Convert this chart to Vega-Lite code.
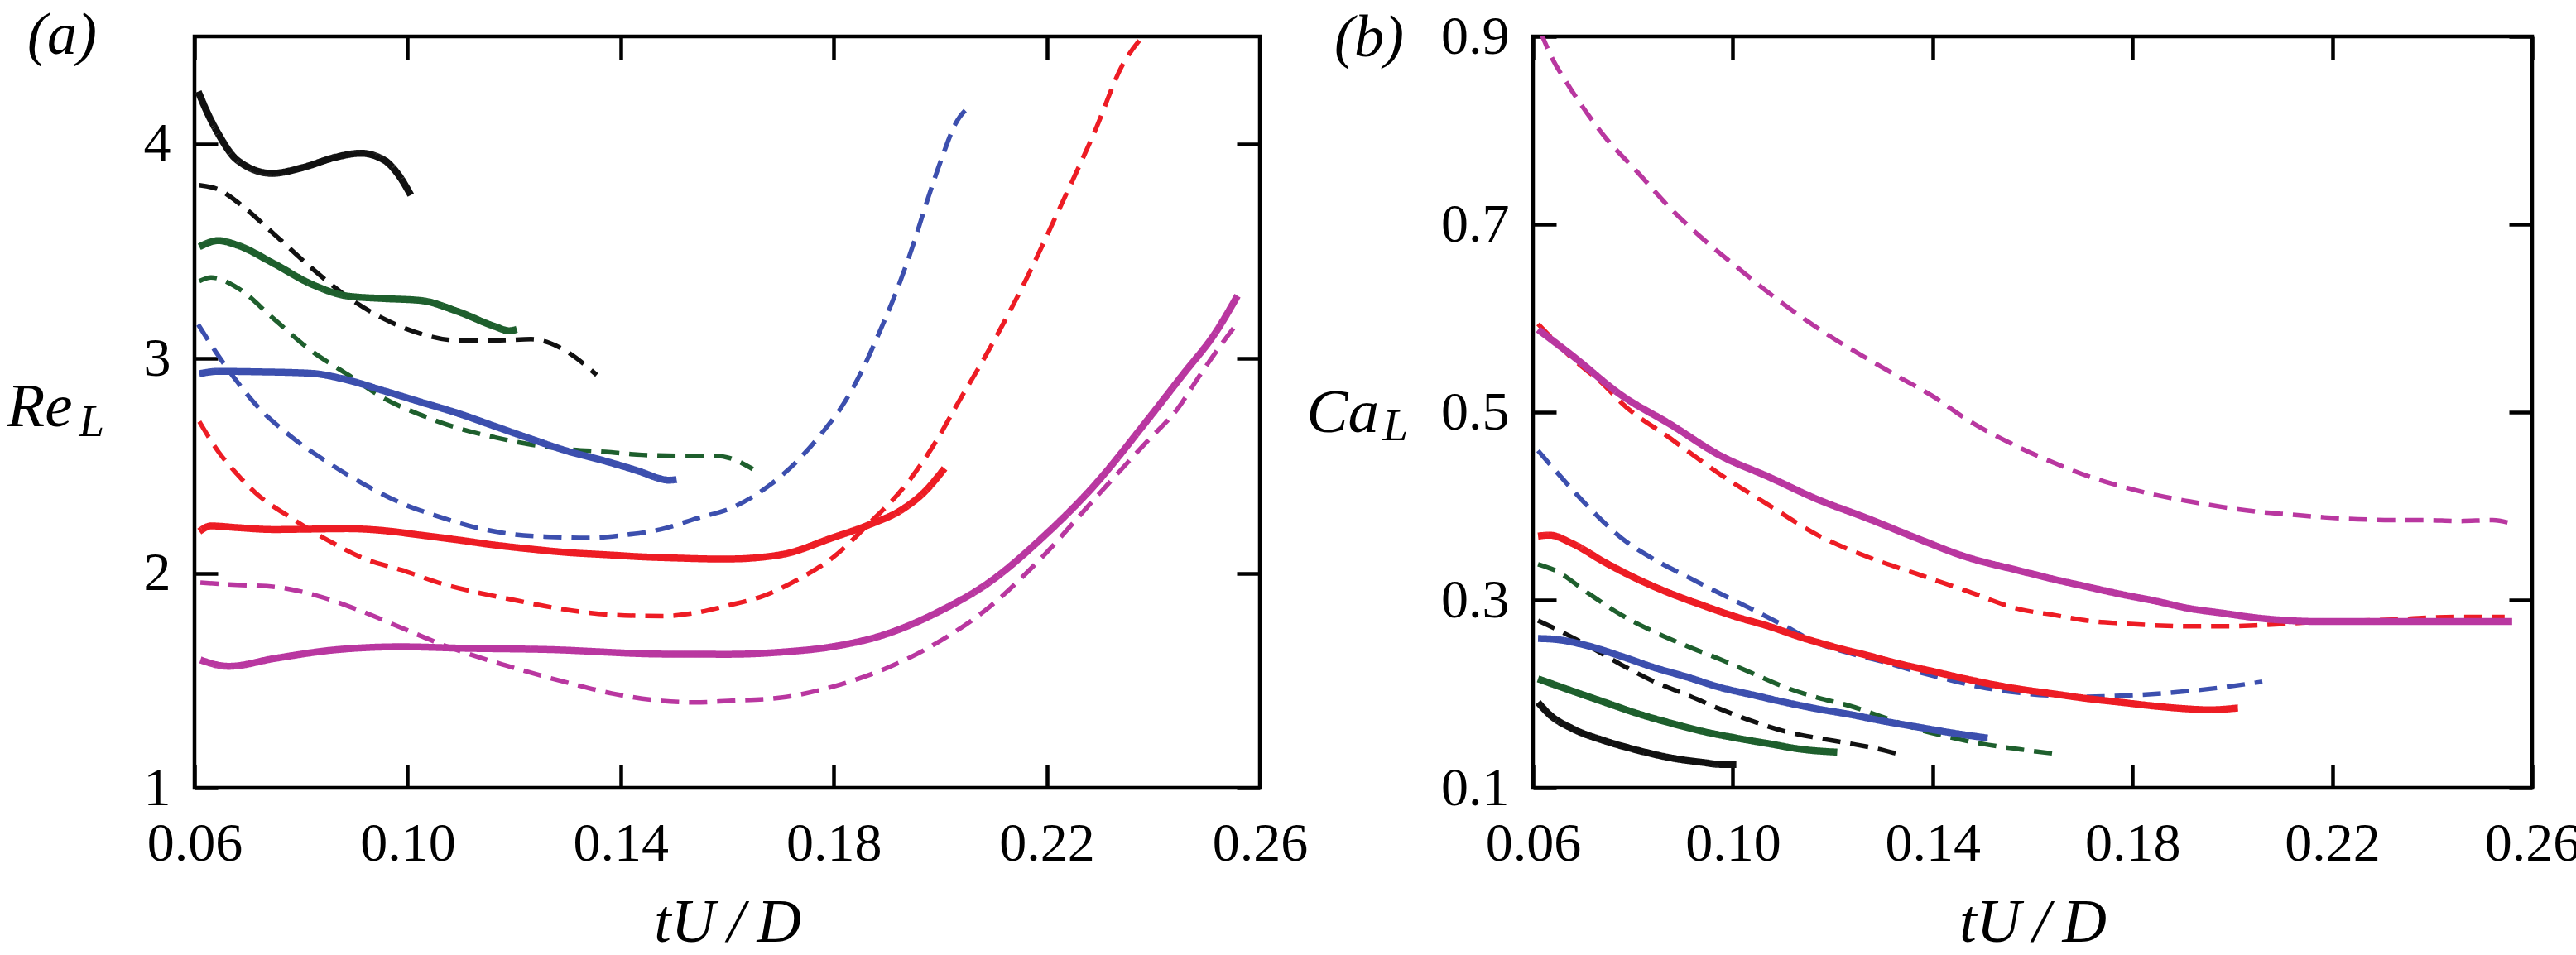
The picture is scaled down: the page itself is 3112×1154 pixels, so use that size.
{
  "$schema": "https://vega.github.io/schema/vega-lite/v6.json",
  "background": "white",
  "padding": {"left": 5, "top": 4, "right": 0, "bottom": 0},
  "bounds": "flush",
  "spacing": 330,
  "config": {
    "font": "Liberation Serif",
    "view": {"stroke": "black", "strokeWidth": 4.5},
    "axis": {
      "grid": false, "domain": false,
      "tickColor": "black", "tickWidth": 4.5, "tickSize": -28,
      "labelFont": "Liberation Serif", "labelFontSize": 66, "labelColor": "black",
      "labelFlush": false, "labelOverlap": false,
      "titleFont": "Liberation Serif", "titleFontSize": 74, "titleFontWeight": "normal",
      "titleFontStyle": "italic", "titleColor": "black"
    }
  },
  "datasets": {
    "a": [
      {"t":0.0607,"v":4.243,"c":"black","s":"solid"},{"t":0.0625,"v":4.14,"c":"black","s":"solid"},{"t":0.0645,"v":4.045,"c":"black","s":"solid"},{"t":0.068,"v":3.924,"c":"black","s":"solid"},{"t":0.0745,"v":3.862,"c":"black","s":"solid"},{"t":0.0804,"v":3.89,"c":"black","s":"solid"},{"t":0.0866,"v":3.938,"c":"black","s":"solid"},{"t":0.0912,"v":3.956,"c":"black","s":"solid"},{"t":0.0956,"v":3.924,"c":"black","s":"solid"},{"t":0.0983,"v":3.855,"c":"black","s":"solid"},{"t":0.1006,"v":3.761,"c":"black","s":"solid"},
      {"t":0.0609,"v":3.807,"c":"black","s":"dashed"},{"t":0.0645,"v":3.787,"c":"black","s":"dashed"},{"t":0.0686,"v":3.718,"c":"black","s":"dashed"},{"t":0.0749,"v":3.58,"c":"black","s":"dashed"},{"t":0.0818,"v":3.425,"c":"black","s":"dashed"},{"t":0.0887,"v":3.287,"c":"black","s":"dashed"},{"t":0.0956,"v":3.184,"c":"black","s":"dashed"},{"t":0.1025,"v":3.115,"c":"black","s":"dashed"},{"t":0.1094,"v":3.084,"c":"black","s":"dashed"},{"t":0.1163,"v":3.084,"c":"black","s":"dashed"},{"t":0.1232,"v":3.09,"c":"black","s":"dashed"},{"t":0.1267,"v":3.072,"c":"black","s":"dashed"},{"t":0.1301,"v":3.029,"c":"black","s":"dashed"},{"t":0.1355,"v":2.923,"c":"black","s":"dashed"},
      {"t":0.0609,"v":3.52,"c":"green","s":"solid"},{"t":0.0645,"v":3.549,"c":"green","s":"solid"},{"t":0.068,"v":3.528,"c":"green","s":"solid"},{"t":0.0749,"v":3.442,"c":"green","s":"solid"},{"t":0.0818,"v":3.348,"c":"green","s":"solid"},{"t":0.0887,"v":3.291,"c":"green","s":"solid"},{"t":0.0956,"v":3.279,"c":"green","s":"solid"},{"t":0.1025,"v":3.27,"c":"green","s":"solid"},{"t":0.1094,"v":3.219,"c":"green","s":"solid"},{"t":0.1163,"v":3.15,"c":"green","s":"solid"},{"t":0.1191,"v":3.129,"c":"green","s":"solid"},{"t":0.1205,"v":3.136,"c":"green","s":"solid"},
      {"t":0.0609,"v":3.36,"c":"green","s":"dashed"},{"t":0.0631,"v":3.377,"c":"green","s":"dashed"},{"t":0.068,"v":3.33,"c":"green","s":"dashed"},{"t":0.0749,"v":3.184,"c":"green","s":"dashed"},{"t":0.0818,"v":3.038,"c":"green","s":"dashed"},{"t":0.0887,"v":2.926,"c":"green","s":"dashed"},{"t":0.0956,"v":2.814,"c":"green","s":"dashed"},{"t":0.1025,"v":2.737,"c":"green","s":"dashed"},{"t":0.1094,"v":2.676,"c":"green","s":"dashed"},{"t":0.1163,"v":2.633,"c":"green","s":"dashed"},{"t":0.1232,"v":2.599,"c":"green","s":"dashed"},{"t":0.1301,"v":2.577,"c":"green","s":"dashed"},{"t":0.1371,"v":2.565,"c":"green","s":"dashed"},{"t":0.144,"v":2.551,"c":"green","s":"dashed"},{"t":0.1509,"v":2.547,"c":"green","s":"dashed"},{"t":0.1578,"v":2.547,"c":"green","s":"dashed"},{"t":0.1612,"v":2.53,"c":"green","s":"dashed"},{"t":0.1648,"v":2.485,"c":"green","s":"dashed"},
      {"t":0.0609,"v":2.929,"c":"blue","s":"solid"},{"t":0.0645,"v":2.94,"c":"blue","s":"solid"},{"t":0.0714,"v":2.938,"c":"blue","s":"solid"},{"t":0.0818,"v":2.931,"c":"blue","s":"solid"},{"t":0.0887,"v":2.9,"c":"blue","s":"solid"},{"t":0.0956,"v":2.849,"c":"blue","s":"solid"},{"t":0.1025,"v":2.797,"c":"blue","s":"solid"},{"t":0.1094,"v":2.745,"c":"blue","s":"solid"},{"t":0.1163,"v":2.685,"c":"blue","s":"solid"},{"t":0.1232,"v":2.625,"c":"blue","s":"solid"},{"t":0.1301,"v":2.568,"c":"blue","s":"solid"},{"t":0.1371,"v":2.522,"c":"blue","s":"solid"},{"t":0.144,"v":2.47,"c":"blue","s":"solid"},{"t":0.1474,"v":2.44,"c":"blue","s":"solid"},{"t":0.149,"v":2.433,"c":"blue","s":"solid"},{"t":0.1505,"v":2.436,"c":"blue","s":"solid"},
      {"t":0.0607,"v":3.158,"c":"blue","s":"dashed"},{"t":0.0645,"v":3.012,"c":"blue","s":"dashed"},{"t":0.068,"v":2.892,"c":"blue","s":"dashed"},{"t":0.0714,"v":2.788,"c":"blue","s":"dashed"},{"t":0.0783,"v":2.633,"c":"blue","s":"dashed"},{"t":0.0852,"v":2.513,"c":"blue","s":"dashed"},{"t":0.0921,"v":2.41,"c":"blue","s":"dashed"},{"t":0.099,"v":2.324,"c":"blue","s":"dashed"},{"t":0.1059,"v":2.263,"c":"blue","s":"dashed"},{"t":0.1129,"v":2.212,"c":"blue","s":"dashed"},{"t":0.1198,"v":2.181,"c":"blue","s":"dashed"},{"t":0.1267,"v":2.169,"c":"blue","s":"dashed"},{"t":0.1336,"v":2.164,"c":"blue","s":"dashed"},{"t":0.1405,"v":2.177,"c":"blue","s":"dashed"},{"t":0.1474,"v":2.203,"c":"blue","s":"dashed"},{"t":0.1543,"v":2.255,"c":"blue","s":"dashed"},{"t":0.1612,"v":2.308,"c":"blue","s":"dashed"},{"t":0.1681,"v":2.412,"c":"blue","s":"dashed"},{"t":0.1733,"v":2.526,"c":"blue","s":"dashed"},{"t":0.1779,"v":2.656,"c":"blue","s":"dashed"},{"t":0.1818,"v":2.787,"c":"blue","s":"dashed"},{"t":0.1851,"v":2.933,"c":"blue","s":"dashed"},{"t":0.1884,"v":3.112,"c":"blue","s":"dashed"},{"t":0.1917,"v":3.308,"c":"blue","s":"dashed"},{"t":0.195,"v":3.536,"c":"blue","s":"dashed"},{"t":0.1975,"v":3.731,"c":"blue","s":"dashed"},{"t":0.2002,"v":3.927,"c":"blue","s":"dashed"},{"t":0.2028,"v":4.09,"c":"blue","s":"dashed"},{"t":0.2061,"v":4.184,"c":"blue","s":"dashed"},
      {"t":0.0609,"v":2.194,"c":"red","s":"solid"},{"t":0.0631,"v":2.22,"c":"red","s":"solid"},{"t":0.068,"v":2.212,"c":"red","s":"solid"},{"t":0.0749,"v":2.203,"c":"red","s":"solid"},{"t":0.0818,"v":2.205,"c":"red","s":"solid"},{"t":0.0887,"v":2.207,"c":"red","s":"solid"},{"t":0.0956,"v":2.198,"c":"red","s":"solid"},{"t":0.1025,"v":2.177,"c":"red","s":"solid"},{"t":0.1094,"v":2.155,"c":"red","s":"solid"},{"t":0.1163,"v":2.131,"c":"red","s":"solid"},{"t":0.1232,"v":2.112,"c":"red","s":"solid"},{"t":0.1301,"v":2.096,"c":"red","s":"solid"},{"t":0.1371,"v":2.086,"c":"red","s":"solid"},{"t":0.144,"v":2.076,"c":"red","s":"solid"},{"t":0.1509,"v":2.07,"c":"red","s":"solid"},{"t":0.1578,"v":2.066,"c":"red","s":"solid"},{"t":0.1603,"v":2.066,"c":"red","s":"solid"},{"t":0.1701,"v":2.086,"c":"red","s":"solid"},{"t":0.1799,"v":2.166,"c":"red","s":"solid"},{"t":0.1865,"v":2.224,"c":"red","s":"solid"},{"t":0.193,"v":2.299,"c":"red","s":"solid"},{"t":0.1969,"v":2.375,"c":"red","s":"solid"},{"t":0.2008,"v":2.488,"c":"red","s":"solid"},
      {"t":0.0609,"v":2.706,"c":"red","s":"dashed"},{"t":0.0645,"v":2.565,"c":"red","s":"dashed"},{"t":0.068,"v":2.461,"c":"red","s":"dashed"},{"t":0.0714,"v":2.375,"c":"red","s":"dashed"},{"t":0.0783,"v":2.255,"c":"red","s":"dashed"},{"t":0.0852,"v":2.151,"c":"red","s":"dashed"},{"t":0.0921,"v":2.065,"c":"red","s":"dashed"},{"t":0.0988,"v":2.015,"c":"red","s":"dashed"},{"t":0.1063,"v":1.952,"c":"red","s":"dashed"},{"t":0.1129,"v":1.911,"c":"red","s":"dashed"},{"t":0.1186,"v":1.882,"c":"red","s":"dashed"},{"t":0.1305,"v":1.827,"c":"red","s":"dashed"},{"t":0.1385,"v":1.806,"c":"red","s":"dashed"},{"t":0.1478,"v":1.8,"c":"red","s":"dashed"},{"t":0.154,"v":1.815,"c":"red","s":"dashed"},{"t":0.1603,"v":1.85,"c":"red","s":"dashed"},{"t":0.1669,"v":1.895,"c":"red","s":"dashed"},{"t":0.1734,"v":1.972,"c":"red","s":"dashed"},{"t":0.1799,"v":2.074,"c":"red","s":"dashed"},{"t":0.1865,"v":2.228,"c":"red","s":"dashed"},{"t":0.193,"v":2.395,"c":"red","s":"dashed"},{"t":0.1995,"v":2.626,"c":"red","s":"dashed"},{"t":0.2028,"v":2.77,"c":"red","s":"dashed"},{"t":0.2093,"v":3.047,"c":"red","s":"dashed"},{"t":0.2159,"v":3.357,"c":"red","s":"dashed"},{"t":0.2224,"v":3.699,"c":"red","s":"dashed"},{"t":0.229,"v":4.057,"c":"red","s":"dashed"},{"t":0.2342,"v":4.366,"c":"red","s":"dashed"},{"t":0.238,"v":4.5,"c":"red","s":"dashed"},
      {"t":0.0611,"v":1.596,"c":"magenta","s":"solid"},{"t":0.0664,"v":1.566,"c":"magenta","s":"solid"},{"t":0.0751,"v":1.603,"c":"magenta","s":"solid"},{"t":0.0869,"v":1.644,"c":"magenta","s":"solid"},{"t":0.0988,"v":1.657,"c":"magenta","s":"solid"},{"t":0.1107,"v":1.65,"c":"magenta","s":"solid"},{"t":0.1265,"v":1.644,"c":"magenta","s":"solid"},{"t":0.1478,"v":1.623,"c":"magenta","s":"solid"},{"t":0.1603,"v":1.622,"c":"magenta","s":"solid"},{"t":0.1701,"v":1.632,"c":"magenta","s":"solid"},{"t":0.1799,"v":1.658,"c":"magenta","s":"solid"},{"t":0.1897,"v":1.715,"c":"magenta","s":"solid"},{"t":0.1995,"v":1.818,"c":"magenta","s":"solid"},{"t":0.2093,"v":1.959,"c":"magenta","s":"solid"},{"t":0.2191,"v":2.164,"c":"magenta","s":"solid"},{"t":0.2289,"v":2.408,"c":"magenta","s":"solid"},{"t":0.2388,"v":2.71,"c":"magenta","s":"solid"},{"t":0.2453,"v":2.917,"c":"magenta","s":"solid"},{"t":0.2519,"v":3.129,"c":"magenta","s":"solid"},{"t":0.2558,"v":3.292,"c":"magenta","s":"solid"},
      {"t":0.0611,"v":1.956,"c":"magenta","s":"dashed"},{"t":0.068,"v":1.945,"c":"magenta","s":"dashed"},{"t":0.0751,"v":1.936,"c":"magenta","s":"dashed"},{"t":0.083,"v":1.895,"c":"magenta","s":"dashed"},{"t":0.0909,"v":1.827,"c":"magenta","s":"dashed"},{"t":0.0988,"v":1.746,"c":"magenta","s":"dashed"},{"t":0.1068,"v":1.664,"c":"magenta","s":"dashed"},{"t":0.1186,"v":1.569,"c":"magenta","s":"dashed"},{"t":0.1305,"v":1.487,"c":"magenta","s":"dashed"},{"t":0.1385,"v":1.439,"c":"magenta","s":"dashed"},{"t":0.1478,"v":1.405,"c":"magenta","s":"dashed"},{"t":0.154,"v":1.398,"c":"magenta","s":"dashed"},{"t":0.1603,"v":1.405,"c":"magenta","s":"dashed"},{"t":0.1701,"v":1.42,"c":"magenta","s":"dashed"},{"t":0.1799,"v":1.472,"c":"magenta","s":"dashed"},{"t":0.1897,"v":1.555,"c":"magenta","s":"dashed"},{"t":0.1995,"v":1.677,"c":"magenta","s":"dashed"},{"t":0.2093,"v":1.844,"c":"magenta","s":"dashed"},{"t":0.2191,"v":2.074,"c":"magenta","s":"dashed"},{"t":0.2289,"v":2.344,"c":"magenta","s":"dashed"},{"t":0.2388,"v":2.613,"c":"magenta","s":"dashed"},{"t":0.2446,"v":2.767,"c":"magenta","s":"dashed"},{"t":0.2486,"v":2.917,"c":"magenta","s":"dashed"},{"t":0.2532,"v":3.08,"c":"magenta","s":"dashed"},{"t":0.2559,"v":3.169,"c":"magenta","s":"dashed"}
    ],
    "b": [
      {"t":0.061,"v":0.191,"c":"black","s":"solid"},{"t":0.0633,"v":0.178,"c":"black","s":"solid"},{"t":0.0679,"v":0.163,"c":"black","s":"solid"},{"t":0.0744,"v":0.15,"c":"black","s":"solid"},{"t":0.081,"v":0.14,"c":"black","s":"solid"},{"t":0.0875,"v":0.132,"c":"black","s":"solid"},{"t":0.0941,"v":0.127,"c":"black","s":"solid"},{"t":0.0974,"v":0.125,"c":"black","s":"solid"},{"t":0.1007,"v":0.125,"c":"black","s":"solid"},
      {"t":0.061,"v":0.278,"c":"black","s":"dashed"},{"t":0.0646,"v":0.269,"c":"black","s":"dashed"},{"t":0.0711,"v":0.251,"c":"black","s":"dashed"},{"t":0.0777,"v":0.231,"c":"black","s":"dashed"},{"t":0.0843,"v":0.213,"c":"black","s":"dashed"},{"t":0.0908,"v":0.199,"c":"black","s":"dashed"},{"t":0.0974,"v":0.184,"c":"black","s":"dashed"},{"t":0.1039,"v":0.171,"c":"black","s":"dashed"},{"t":0.1105,"v":0.16,"c":"black","s":"dashed"},{"t":0.117,"v":0.153,"c":"black","s":"dashed"},{"t":0.1236,"v":0.147,"c":"black","s":"dashed"},{"t":0.1302,"v":0.14,"c":"black","s":"dashed"},{"t":0.1344,"v":0.134,"c":"black","s":"dashed"},
      {"t":0.061,"v":0.216,"c":"green","s":"solid"},{"t":0.0679,"v":0.203,"c":"green","s":"solid"},{"t":0.0744,"v":0.191,"c":"green","s":"solid"},{"t":0.081,"v":0.179,"c":"green","s":"solid"},{"t":0.0875,"v":0.169,"c":"green","s":"solid"},{"t":0.0941,"v":0.16,"c":"green","s":"solid"},{"t":0.1007,"v":0.153,"c":"green","s":"solid"},{"t":0.1072,"v":0.147,"c":"green","s":"solid"},{"t":0.1138,"v":0.141,"c":"green","s":"solid"},{"t":0.1209,"v":0.138,"c":"green","s":"solid"},
      {"t":0.061,"v":0.338,"c":"green","s":"dashed"},{"t":0.0646,"v":0.331,"c":"green","s":"dashed"},{"t":0.0711,"v":0.307,"c":"green","s":"dashed"},{"t":0.0777,"v":0.284,"c":"green","s":"dashed"},{"t":0.0843,"v":0.266,"c":"green","s":"dashed"},{"t":0.0908,"v":0.251,"c":"green","s":"dashed"},{"t":0.0974,"v":0.237,"c":"green","s":"dashed"},{"t":0.1039,"v":0.222,"c":"green","s":"dashed"},{"t":0.1105,"v":0.207,"c":"green","s":"dashed"},{"t":0.117,"v":0.196,"c":"green","s":"dashed"},{"t":0.1236,"v":0.187,"c":"green","s":"dashed"},{"t":0.1302,"v":0.175,"c":"green","s":"dashed"},{"t":0.1367,"v":0.163,"c":"green","s":"dashed"},{"t":0.1433,"v":0.154,"c":"green","s":"dashed"},{"t":0.1498,"v":0.147,"c":"green","s":"dashed"},{"t":0.1575,"v":0.141,"c":"green","s":"dashed"},{"t":0.1649,"v":0.136,"c":"green","s":"dashed"},
      {"t":0.061,"v":0.259,"c":"blue","s":"solid"},{"t":0.0646,"v":0.258,"c":"blue","s":"solid"},{"t":0.0711,"v":0.251,"c":"blue","s":"solid"},{"t":0.0777,"v":0.24,"c":"blue","s":"solid"},{"t":0.0843,"v":0.228,"c":"blue","s":"solid"},{"t":0.0908,"v":0.218,"c":"blue","s":"solid"},{"t":0.0974,"v":0.207,"c":"blue","s":"solid"},{"t":0.1039,"v":0.199,"c":"blue","s":"solid"},{"t":0.1105,"v":0.191,"c":"blue","s":"solid"},{"t":0.117,"v":0.184,"c":"blue","s":"solid"},{"t":0.1236,"v":0.178,"c":"blue","s":"solid"},{"t":0.1302,"v":0.171,"c":"blue","s":"solid"},{"t":0.1367,"v":0.165,"c":"blue","s":"solid"},{"t":0.1433,"v":0.159,"c":"blue","s":"solid"},{"t":0.151,"v":0.153,"c":"blue","s":"solid"},
      {"t":0.061,"v":0.459,"c":"blue","s":"dashed"},{"t":0.0646,"v":0.437,"c":"blue","s":"dashed"},{"t":0.0711,"v":0.399,"c":"blue","s":"dashed"},{"t":0.0777,"v":0.366,"c":"blue","s":"dashed"},{"t":0.0843,"v":0.343,"c":"blue","s":"dashed"},{"t":0.0908,"v":0.325,"c":"blue","s":"dashed"},{"t":0.0974,"v":0.307,"c":"blue","s":"dashed"},{"t":0.1039,"v":0.29,"c":"blue","s":"dashed"},{"t":0.1105,"v":0.272,"c":"blue","s":"dashed"},{"t":0.117,"v":0.254,"c":"blue","s":"dashed"},{"t":0.1236,"v":0.243,"c":"blue","s":"dashed"},{"t":0.1302,"v":0.234,"c":"blue","s":"dashed"},{"t":0.1367,"v":0.224,"c":"blue","s":"dashed"},{"t":0.1433,"v":0.215,"c":"blue","s":"dashed"},{"t":0.1498,"v":0.207,"c":"blue","s":"dashed"},{"t":0.1575,"v":0.201,"c":"blue","s":"dashed"},{"t":0.1643,"v":0.198,"c":"blue","s":"dashed"},{"t":0.171,"v":0.197,"c":"blue","s":"dashed"},{"t":0.1778,"v":0.198,"c":"blue","s":"dashed"},{"t":0.1845,"v":0.2,"c":"blue","s":"dashed"},{"t":0.1913,"v":0.203,"c":"blue","s":"dashed"},{"t":0.198,"v":0.207,"c":"blue","s":"dashed"},{"t":0.206,"v":0.213,"c":"blue","s":"dashed"},
      {"t":0.061,"v":0.368,"c":"red","s":"solid"},{"t":0.0633,"v":0.369,"c":"red","s":"solid"},{"t":0.0679,"v":0.36,"c":"red","s":"solid"},{"t":0.0744,"v":0.34,"c":"red","s":"solid"},{"t":0.081,"v":0.322,"c":"red","s":"solid"},{"t":0.0875,"v":0.307,"c":"red","s":"solid"},{"t":0.0941,"v":0.294,"c":"red","s":"solid"},{"t":0.1007,"v":0.282,"c":"red","s":"solid"},{"t":0.1072,"v":0.272,"c":"red","s":"solid"},{"t":0.1138,"v":0.26,"c":"red","s":"solid"},{"t":0.1203,"v":0.25,"c":"red","s":"solid"},{"t":0.1269,"v":0.241,"c":"red","s":"solid"},{"t":0.1334,"v":0.232,"c":"red","s":"solid"},{"t":0.14,"v":0.224,"c":"red","s":"solid"},{"t":0.1466,"v":0.216,"c":"red","s":"solid"},{"t":0.1531,"v":0.209,"c":"red","s":"solid"},{"t":0.1575,"v":0.205,"c":"red","s":"solid"},{"t":0.1643,"v":0.2,"c":"red","s":"solid"},{"t":0.171,"v":0.195,"c":"red","s":"solid"},{"t":0.1778,"v":0.191,"c":"red","s":"solid"},{"t":0.1845,"v":0.187,"c":"red","s":"solid"},{"t":0.1913,"v":0.184,"c":"red","s":"solid"},{"t":0.1953,"v":0.183,"c":"red","s":"solid"},{"t":0.2011,"v":0.185,"c":"red","s":"solid"},
      {"t":0.061,"v":0.594,"c":"red","s":"dashed"},{"t":0.0679,"v":0.557,"c":"red","s":"dashed"},{"t":0.0744,"v":0.528,"c":"red","s":"dashed"},{"t":0.0777,"v":0.51,"c":"red","s":"dashed"},{"t":0.0875,"v":0.472,"c":"red","s":"dashed"},{"t":0.0974,"v":0.434,"c":"red","s":"dashed"},{"t":0.1072,"v":0.401,"c":"red","s":"dashed"},{"t":0.117,"v":0.369,"c":"red","s":"dashed"},{"t":0.1269,"v":0.346,"c":"red","s":"dashed"},{"t":0.1367,"v":0.328,"c":"red","s":"dashed"},{"t":0.1466,"v":0.31,"c":"red","s":"dashed"},{"t":0.1575,"v":0.29,"c":"red","s":"dashed"},{"t":0.1643,"v":0.284,"c":"red","s":"dashed"},{"t":0.171,"v":0.278,"c":"red","s":"dashed"},{"t":0.1778,"v":0.275,"c":"red","s":"dashed"},{"t":0.1845,"v":0.273,"c":"red","s":"dashed"},{"t":0.1913,"v":0.272,"c":"red","s":"dashed"},{"t":0.198,"v":0.272,"c":"red","s":"dashed"},{"t":0.2048,"v":0.273,"c":"red","s":"dashed"},{"t":0.2116,"v":0.275,"c":"red","s":"dashed"},{"t":0.2183,"v":0.277,"c":"red","s":"dashed"},{"t":0.2251,"v":0.278,"c":"red","s":"dashed"},{"t":0.2318,"v":0.279,"c":"red","s":"dashed"},{"t":0.2386,"v":0.281,"c":"red","s":"dashed"},{"t":0.2453,"v":0.282,"c":"red","s":"dashed"},{"t":0.2545,"v":0.282,"c":"red","s":"dashed"},
      {"t":0.061,"v":0.588,"c":"magenta","s":"solid"},{"t":0.0679,"v":0.56,"c":"magenta","s":"solid"},{"t":0.0777,"v":0.518,"c":"magenta","s":"solid"},{"t":0.0875,"v":0.487,"c":"magenta","s":"solid"},{"t":0.0974,"v":0.454,"c":"magenta","s":"solid"},{"t":0.1072,"v":0.431,"c":"magenta","s":"solid"},{"t":0.117,"v":0.407,"c":"magenta","s":"solid"},{"t":0.1269,"v":0.387,"c":"magenta","s":"solid"},{"t":0.1367,"v":0.366,"c":"magenta","s":"solid"},{"t":0.1466,"v":0.346,"c":"magenta","s":"solid"},{"t":0.1575,"v":0.331,"c":"magenta","s":"solid"},{"t":0.1643,"v":0.322,"c":"magenta","s":"solid"},{"t":0.171,"v":0.314,"c":"magenta","s":"solid"},{"t":0.1778,"v":0.306,"c":"magenta","s":"solid"},{"t":0.1845,"v":0.299,"c":"magenta","s":"solid"},{"t":0.1913,"v":0.291,"c":"magenta","s":"solid"},{"t":0.198,"v":0.286,"c":"magenta","s":"solid"},{"t":0.2048,"v":0.281,"c":"magenta","s":"solid"},{"t":0.2116,"v":0.278,"c":"magenta","s":"solid"},{"t":0.2183,"v":0.277,"c":"magenta","s":"solid"},{"t":0.2251,"v":0.277,"c":"magenta","s":"solid"},{"t":0.2386,"v":0.277,"c":"magenta","s":"solid"},{"t":0.256,"v":0.277,"c":"magenta","s":"solid"},
      {"t":0.0615,"v":0.905,"c":"magenta","s":"dashed"},{"t":0.0639,"v":0.876,"c":"magenta","s":"dashed"},{"t":0.0666,"v":0.852,"c":"magenta","s":"dashed"},{"t":0.0698,"v":0.826,"c":"magenta","s":"dashed"},{"t":0.0744,"v":0.793,"c":"magenta","s":"dashed"},{"t":0.081,"v":0.755,"c":"magenta","s":"dashed"},{"t":0.0875,"v":0.717,"c":"magenta","s":"dashed"},{"t":0.0941,"v":0.684,"c":"magenta","s":"dashed"},{"t":0.1007,"v":0.655,"c":"magenta","s":"dashed"},{"t":0.1072,"v":0.627,"c":"magenta","s":"dashed"},{"t":0.1138,"v":0.601,"c":"magenta","s":"dashed"},{"t":0.1203,"v":0.578,"c":"magenta","s":"dashed"},{"t":0.1269,"v":0.557,"c":"magenta","s":"dashed"},{"t":0.1334,"v":0.537,"c":"magenta","s":"dashed"},{"t":0.14,"v":0.517,"c":"magenta","s":"dashed"},{"t":0.1466,"v":0.493,"c":"magenta","s":"dashed"},{"t":0.1575,"v":0.462,"c":"magenta","s":"dashed"},{"t":0.1643,"v":0.446,"c":"magenta","s":"dashed"},{"t":0.171,"v":0.432,"c":"magenta","s":"dashed"},{"t":0.1778,"v":0.421,"c":"magenta","s":"dashed"},{"t":0.1845,"v":0.412,"c":"magenta","s":"dashed"},{"t":0.1913,"v":0.405,"c":"magenta","s":"dashed"},{"t":0.198,"v":0.399,"c":"magenta","s":"dashed"},{"t":0.2048,"v":0.394,"c":"magenta","s":"dashed"},{"t":0.2116,"v":0.391,"c":"magenta","s":"dashed"},{"t":0.2183,"v":0.388,"c":"magenta","s":"dashed"},{"t":0.2251,"v":0.386,"c":"magenta","s":"dashed"},{"t":0.2318,"v":0.385,"c":"magenta","s":"dashed"},{"t":0.2386,"v":0.385,"c":"magenta","s":"dashed"},{"t":0.2453,"v":0.384,"c":"magenta","s":"dashed"},{"t":0.2521,"v":0.385,"c":"magenta","s":"dashed"},{"t":0.2561,"v":0.381,"c":"magenta","s":"dashed"}
    ]
  },
  "hconcat": [
    {
      "width": 1287, "height": 908,
      "title": {"text": "(a)", "anchor": "start", "frame": "group", "dx": -202, "offset": -38, "fontSize": 72, "fontStyle": "italic", "fontWeight": "normal", "font": "Liberation Serif", "color": "black"},
      "data": {"name": "a"},
      "layer": [
        {
          "mark": {"type": "line", "interpolate": "monotone", "clip": true, "strokeCap": "butt"},
          "encoding": {
            "x": {"field": "t", "type": "quantitative", "scale": {"domain": [0.06, 0.26], "nice": false, "zero": false},
                  "axis": {"orient": "bottom", "values": [0.06, 0.1, 0.14, 0.18, 0.22, 0.26], "format": ".2f", "labelBaseline": "alphabetic", "labelPadding": 115, "title": "tU\u2009/\u2009D", "titleX": 643.5, "titleY": 185, "titleAlign": "center", "titleBaseline": "alphabetic"}},
            "y": {"field": "v", "type": "quantitative", "scale": {"domain": [1, 4.5], "nice": false, "zero": false},
                  "axis": {"orient": "left", "values": [1, 2, 3, 4], "format": "d", "labelPadding": 57, "title": "Re", "titleAngle": 0, "titleAlign": "left", "titleBaseline": "alphabetic", "titleX": -227, "titleY": 470, "titleFontSize": 75}},
            "color": {"field": "c", "type": "nominal", "scale": {"domain": ["black", "green", "blue", "red", "magenta"], "range": ["#111111", "#1e5f2d", "#3c4fae", "#ed1c24", "#b937a0"]}, "legend": null},
            "strokeDash": {"field": "s", "type": "nominal", "scale": {"domain": ["solid", "dashed"], "range": [[1, 0], [22, 12]]}, "legend": null},
            "strokeWidth": {"field": "s", "type": "ordinal", "scale": {"domain": ["solid", "dashed"], "range": [8.5, 5.5]}, "legend": null}
          }
        },
        {
          "mark": {"type": "line", "opacity": 0},
          "encoding": {
            "x": {"field": "t", "type": "quantitative", "scale": {"domain": [0.06, 0.26], "nice": false, "zero": false},
                  "axis": {"orient": "top", "values": [0.06, 0.1, 0.14, 0.18, 0.22, 0.26], "labels": false, "title": null}},
            "y": {"field": "v", "type": "quantitative", "scale": {"domain": [1, 4.5], "nice": false, "zero": false},
                  "axis": {"orient": "right", "values": [1, 2, 3, 4], "labels": false, "title": "L", "titleAngle": 0, "titleAlign": "left", "titleBaseline": "alphabetic", "titleX": -1427, "titleY": 482, "titleFontSize": 55}},
            "detail": {"field": "c"}
          }
        }
      ],
      "resolve": {"axis": {"x": "independent", "y": "independent"}}
    },
    {
      "width": 1207, "height": 908,
      "title": {"text": "(b)", "anchor": "start", "frame": "group", "dx": -240, "offset": -72, "fontSize": 72, "fontStyle": "italic", "fontWeight": "normal", "font": "Liberation Serif", "color": "black"},
      "data": {"name": "b"},
      "layer": [
        {
          "mark": {"type": "line", "interpolate": "monotone", "clip": true, "strokeCap": "butt"},
          "encoding": {
            "x": {"field": "t", "type": "quantitative", "scale": {"domain": [0.06, 0.26], "nice": false, "zero": false},
                  "axis": {"orient": "bottom", "values": [0.06, 0.1, 0.14, 0.18, 0.22, 0.26], "format": ".2f", "labelBaseline": "alphabetic", "labelPadding": 115, "title": "tU\u2009/\u2009D", "titleX": 603.5, "titleY": 185, "titleAlign": "center", "titleBaseline": "alphabetic"}},
            "y": {"field": "v", "type": "quantitative", "scale": {"domain": [0.1, 0.9], "nice": false, "zero": false},
                  "axis": {"orient": "left", "values": [0.1, 0.3, 0.5, 0.7, 0.9], "format": ".1f", "labelPadding": 57, "title": "Ca", "titleAngle": 0, "titleAlign": "left", "titleBaseline": "alphabetic", "titleX": -274, "titleY": 477, "titleFontSize": 75}},
            "color": {"field": "c", "type": "nominal", "scale": {"domain": ["black", "green", "blue", "red", "magenta"], "range": ["#111111", "#1e5f2d", "#3c4fae", "#ed1c24", "#b937a0"]}, "legend": null},
            "strokeDash": {"field": "s", "type": "nominal", "scale": {"domain": ["solid", "dashed"], "range": [[1, 0], [22, 12]]}, "legend": null},
            "strokeWidth": {"field": "s", "type": "ordinal", "scale": {"domain": ["solid", "dashed"], "range": [8.5, 5.5]}, "legend": null}
          }
        },
        {
          "mark": {"type": "line", "opacity": 0},
          "encoding": {
            "x": {"field": "t", "type": "quantitative", "scale": {"domain": [0.06, 0.26], "nice": false, "zero": false},
                  "axis": {"orient": "top", "values": [0.06, 0.1, 0.14, 0.18, 0.22, 0.26], "labels": false, "title": null}},
            "y": {"field": "v", "type": "quantitative", "scale": {"domain": [0.1, 0.9], "nice": false, "zero": false},
                  "axis": {"orient": "right", "values": [0.1, 0.3, 0.5, 0.7, 0.9], "labels": false, "title": "L", "titleAngle": 0, "titleAlign": "left", "titleBaseline": "alphabetic", "titleX": -1389, "titleY": 487, "titleFontSize": 55}},
            "detail": {"field": "c"}
          }
        }
      ],
      "resolve": {"axis": {"x": "independent", "y": "independent"}}
    }
  ]
}
